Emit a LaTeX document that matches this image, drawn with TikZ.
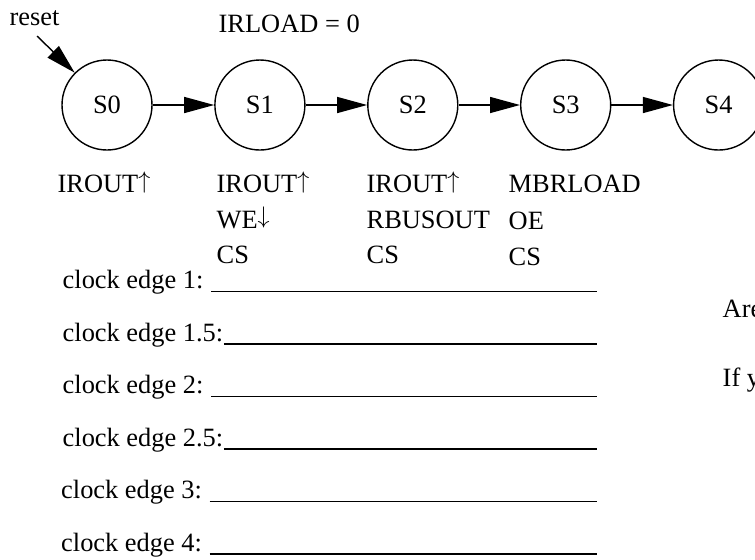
\documentclass[tikz,border=0pt]{standalone}
\usepackage{fontspec}
\setmainfont{Liberation Serif}
\usetikzlibrary{arrows.meta,positioning,calc}
\newcommand{\sigup}{\raisebox{0.14em}{$\uparrow$}}
\newcommand{\sigdown}{\raisebox{0.18em}{$\downarrow$}}

\begin{document}
\begin{tikzpicture}[x=0.5pt,y=-0.5pt,line width=0.7pt,
  font=\fontsize{13.2}{15}\selectfont,node distance=30.75pt,
  state/.style={draw,circle,minimum size=45pt,inner sep=0pt},
  trans/.style={-{Triangle[length=15pt,width=8pt]}},
  sig/.style={anchor=base west,inner sep=0pt},
  blank/.style={line width=0.65pt}]
  \useasboundingbox (0,0) rectangle (755,559);
  % state chain
  \node[state] (s0) at (107,105) {S0};
  \node[state,right=of s0] (s1) {S1};
  \node[state,right=of s1] (s2) {S2};
  \node[state,right=of s2] (s3) {S3};
  \node[state,right=of s3] (s4) {S4};
  \draw[trans] (s0) -- (s1);
  \draw[trans] (s1) -- (s2);
  \draw[trans] (s2) -- (s3);
  \draw[trans] (s3) -- (s4);
  % reset entry
  \node[sig] (rst) at (9,25) {reset};
  \coordinate (rtail) at (37,36);
  \draw[trans] (rtail) -- (s0.135);
  \node[sig] (irl) at (218,32) {IRLOAD = 0};
  % outputs under each state
  \node[sig] (ir0) at (57,192) {IROUT\sigup};
  \node[sig] (ir1) at (216,192) {IROUT\sigup};
  \node[sig] (we1) at (216,228) {WE\sigdown};
  \node[sig] (cs1) at (216,263) {CS};
  \node[sig] (ir2) at (366,192) {IROUT\sigup};
  \node[sig] (rb2) at (366,228) {RBUSOUT};
  \node[sig] (cs2) at (366,263) {CS};
  \node[sig] (mb3) at (508,192) {MBRLOAD};
  \node[sig] (oe3) at (508,229) {OE};
  \node[sig] (cs3) at (508,265) {CS};
  % answer lines
  \coordinate (rend) at (597,0);
  \foreach \e/\x/\g [count=\i] in {1/62/7,1.5/62/0,2/62/7,2.5/62/0,3/60.5/7,4/60.5/7}{
    \node[sig] (ce\i) at (\x,{288.5+52.5*(\i-1)}) {clock edge \e:};
    \draw[blank] ($(ce\i.base east)+(\g,3)$) -- ($(ce\i.base east -| rend)+(0,3)$);
  }
  \node[sig] (are) at (722,317) {Are};
  \node[sig] (ify) at (722,386) {If y};
\end{tikzpicture}
\end{document}
